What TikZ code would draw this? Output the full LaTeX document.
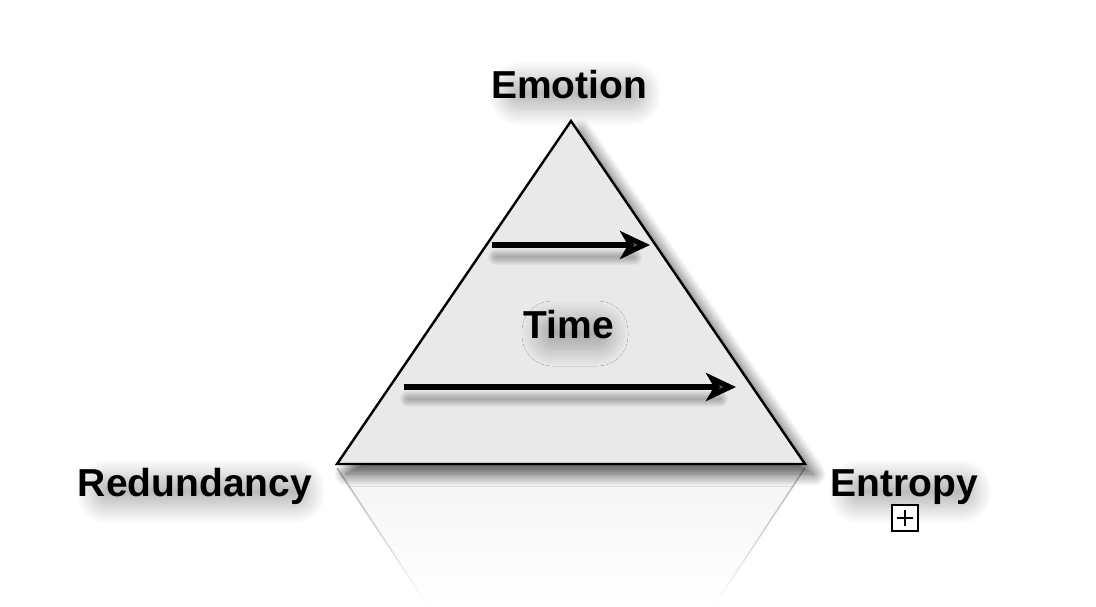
\documentclass[tikz,border=0pt]{standalone}
\usepackage{fontspec}
\setmainfont{Liberation Sans}
\usetikzlibrary{arrows.meta,shadows.blur,fadings}

\tikzfading[name=reflfade, top color=transparent!30, bottom color=transparent!100]

\tikzset{
  lbl/.style={font=\bfseries\fontsize{19.5}{22}\selectfont, inner sep=1pt},
  timearrow/.style={line width=2.6pt, -{Stealth[length=15pt,width=14pt,inset=4pt]}},
  arrowshade/.style={black, opacity=0.035, line cap=round},
  lblshade/.style={rounded corners=6pt, blur shadow={shadow xshift=3pt, shadow yshift=-4pt, shadow blur radius=9pt, shadow blur steps=24, shadow opacity=30}},
}

% soft shadow under a label: centre x, baseline y, half width
\newcommand{\lblshadow}[3]{
  \path[lblshade] ({#1-#3+10},{#2+2}) rectangle ({#1+#3-10},{#2-27});
}

\begin{document}
\begin{tikzpicture}[x=0.5pt, y=-0.5pt]
\useasboundingbox (0,0) rectangle (1096,606);
\coordinate (apex) at (571,121);
\coordinate (redc) at (337,464);
\coordinate (entc) at (805,464);
% reflection
\fill[gray!12, path fading=reflfade] (337,468) -- (805,468) -- (714,606) -- (428,606) -- cycle;
\draw[gray!80, line width=0.8pt, path fading=reflfade] (337,468) -- (428,606);
\draw[gray!80, line width=0.8pt, path fading=reflfade] (805,468) -- (714,606);
% triangle
\draw[line width=1.2pt, fill=gray!17, line join=miter,
  blur shadow={shadow xshift=4.5pt, shadow yshift=-5pt, shadow blur radius=6pt, shadow blur steps=12, shadow opacity=70}]
  (apex) -- (entc) -- (redc) -- cycle;
\coordinate (a1s) at (492,245);
\coordinate (a1e) at (650,245);
\coordinate (a2s) at (404,387);
\coordinate (a2e) at (736,387);
% arrow shadows
\foreach \w in {2,4,...,16} {
  \draw[arrowshade, line width=\w*0.5pt] ([shift={(4,12)}]a1s) -- ([shift={(-16,12)}]a1e);
  \draw[arrowshade, line width=\w*0.5pt] ([shift={(4,12)}]a2s) -- ([shift={(-16,12)}]a2e);
}
\draw[timearrow] (a1s) -- (a1e);
\draw[timearrow] (a2s) -- (a2e);
% label shadows
\lblshadow{569}{98}{79}
\lblshadow{569}{338}{45}
\lblshadow{195}{496}{117}
\lblshadow{904}{496}{74}
% labels
\node[lbl, anchor=base] (emotion) at (569,98) {Emotion};
\node[lbl, anchor=base] (time) at (569,338) {Time};
\node[lbl, anchor=base] (redundancy) at (195,496) {Redundancy};
\node[lbl, anchor=base] (entropy) at (904,496) {Entropy};
\node[draw, line width=0.7pt, fill=white, minimum size=13pt, inner sep=0pt] (expand) at (905,518) {};
\draw[line width=0.7pt] ([xshift=-4pt]expand.center) -- ([xshift=4pt]expand.center);
\draw[line width=0.7pt] ([yshift=-4pt]expand.center) -- ([yshift=4pt]expand.center);
\end{tikzpicture}
\end{document}
